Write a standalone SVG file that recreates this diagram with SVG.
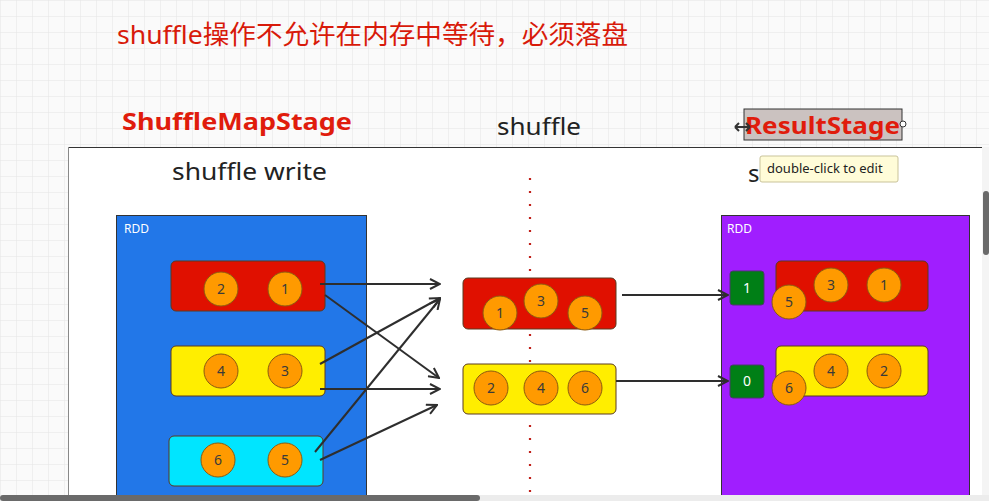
<svg xmlns="http://www.w3.org/2000/svg" width="989" height="501" viewBox="0 0 989 501">
<style>
.sans{font-family:"Noto Sans","Open Sans","Liberation Sans",sans-serif}
.cjk{font-family:"Noto Sans","Noto Sans CJK SC",sans-serif}
.part{stroke:#5a3a20;stroke-width:1}
.ball{fill:#ff9a00;stroke:#8a5a10;stroke-width:1}
.num{font-family:"Noto Sans","Open Sans",sans-serif;font-size:14px;fill:#3a3a3a;text-anchor:middle}
.rdd{font-family:"Noto Sans","Open Sans",sans-serif;font-size:12px;fill:#ffffff}
.conn{stroke:#2e2e2e;stroke-width:2;fill:none}
.big{font-size:24px;fill:#222}
</style>
<defs>
<pattern id="grid" width="16" height="16" patternUnits="userSpaceOnUse">
<path d="M16 0 L0 0 L0 16" fill="none" stroke="#e4e4e4" stroke-width="1"/>
</pattern>
<marker id="open" viewBox="0 0 12 12" refX="11" refY="6" markerWidth="12" markerHeight="12" markerUnits="userSpaceOnUse" orient="auto">
<path d="M1 1 L11 6 L1 11" fill="none" stroke="#2e2e2e" stroke-width="2"/>
</marker>
</defs>

<rect x="0" y="0" width="989" height="501" fill="#fafafa"/>
<rect x="0" y="0" width="989" height="501" fill="url(#grid)"/>

<g id="title">
<text class="cjk" x="117" y="44" font-size="26" fill="#d81a0a" textLength="511" lengthAdjust="spacingAndGlyphs">shuffle操作不允许在内存中等待，必须落盘</text>
</g>

<g id="labels">
<text class="sans" x="122" y="130" font-size="24" font-weight="bold" fill="#e01c0c" textLength="230" lengthAdjust="spacingAndGlyphs">ShuffleMapStage</text>
<text class="sans big" x="497" y="135" textLength="84" lengthAdjust="spacingAndGlyphs">shuffle</text>
</g>

<g id="panel">
<rect x="68" y="147" width="914" height="348" fill="#ffffff"/>
<line x1="68" y1="147.5" x2="982" y2="147.5" stroke="#333" stroke-width="1.2"/>
<line x1="68.5" y1="147" x2="68.5" y2="495" stroke="#888" stroke-width="1"/>
<text class="sans big" x="172" y="180" textLength="155" lengthAdjust="spacingAndGlyphs">shuffle write</text>
<text class="sans big" x="748" y="182">s</text>
<line x1="530" y1="178" x2="530" y2="495" stroke="#c0201a" stroke-width="2.2" stroke-dasharray="2 11"/>
</g>

<g id="result-stage-label">
<rect x="744" y="109" width="158" height="31" fill="#cbc2c0" stroke="#333" stroke-width="1"/>
<text class="sans" x="745" y="134" font-size="24" font-weight="bold" fill="#e01c0c" textLength="155" lengthAdjust="spacingAndGlyphs">ResultStage</text>
<circle cx="903" cy="124" r="3" fill="#fff" stroke="#333" stroke-width="1"/>
<path d="M735 127 L750 127 M735 127 L739 123 M735 127 L739 131 M750 127 L746 123 M750 127 L746 131" stroke="#333" stroke-width="2" fill="none"/>
</g>

<g id="tooltip">
<rect x="760" y="156" width="138" height="26" rx="2" fill="#fffcd8" stroke="#c9c39a" stroke-width="1"/>
<text class="sans" x="767" y="173" font-size="13" fill="#222">double-click to edit</text>
</g>

<g id="rdd-left">
<rect x="116.5" y="215.5" width="250" height="280" fill="#2277e8" stroke="#333" stroke-width="1"/>
<text class="rdd" x="124" y="233">RDD</text>
</g>
<g id="left-p0">
<rect class="part" x="171" y="261" width="154" height="50" rx="5" fill="#e01000"/>
<circle class="ball" cx="221" cy="289" r="17"/><text class="num" x="221" y="294">2</text>
<circle class="ball" cx="285" cy="289" r="17"/><text class="num" x="285" y="294">1</text>
</g>
<g id="left-p1">
<rect class="part" x="171" y="346" width="154" height="50" rx="5" fill="#ffee00"/>
<circle class="ball" cx="221" cy="371" r="17"/><text class="num" x="221" y="376">4</text>
<circle class="ball" cx="285" cy="371" r="17"/><text class="num" x="285" y="376">3</text>
</g>
<g id="left-p2">
<rect class="part" x="169" y="436" width="154" height="50" rx="5" fill="#00e5ff"/>
<circle class="ball" cx="218" cy="460" r="17"/><text class="num" x="218" y="465">6</text>
<circle class="ball" cx="285" cy="460" r="17"/><text class="num" x="285" y="465">5</text>
</g>

<g id="mid-p0">
<rect class="part" x="463" y="278" width="153" height="51" rx="5" fill="#e01000"/>
<circle class="ball" cx="541" cy="301" r="17"/><text class="num" x="541" y="306">3</text>
<circle class="ball" cx="500" cy="313" r="17"/><text class="num" x="500" y="318">1</text>
<circle class="ball" cx="585" cy="313" r="17"/><text class="num" x="585" y="318">5</text>
</g>
<g id="mid-p1">
<rect class="part" x="463" y="364" width="153" height="50" rx="5" fill="#ffee00"/>
<circle class="ball" cx="491" cy="388" r="17"/><text class="num" x="491" y="393">2</text>
<circle class="ball" cx="541" cy="388" r="17"/><text class="num" x="541" y="393">4</text>
<circle class="ball" cx="585" cy="388" r="17"/><text class="num" x="585" y="393">6</text>
</g>

<g id="rdd-right">
<rect x="721.5" y="215.5" width="248" height="280" fill="#a01eff" stroke="#333" stroke-width="1"/>
<text class="rdd" x="727" y="233">RDD</text>
</g>
<g id="right-idx1">
<rect x="730" y="271" width="34" height="34" rx="3" fill="#007f16" stroke="#4a3a6a" stroke-width="1"/>
<text class="num" x="747" y="293" style="fill:#fff">1</text>
</g>
<g id="right-idx0">
<rect x="730" y="365" width="34" height="33" rx="3" fill="#007f16" stroke="#4a3a6a" stroke-width="1"/>
<text class="num" x="747" y="386" style="fill:#fff">0</text>
</g>
<g id="right-p0">
<rect class="part" x="776" y="261" width="152" height="50" rx="5" fill="#e01000"/>
<circle class="ball" cx="831" cy="285" r="17"/><text class="num" x="831" y="290">3</text>
<circle class="ball" cx="884" cy="285" r="17"/><text class="num" x="884" y="290">1</text>
<circle class="ball" cx="789" cy="302" r="17"/><text class="num" x="789" y="307">5</text>
</g>
<g id="right-p1">
<rect class="part" x="776" y="346" width="152" height="50" rx="5" fill="#ffee00"/>
<circle class="ball" cx="831" cy="371" r="17"/><text class="num" x="831" y="376">4</text>
<circle class="ball" cx="884" cy="371" r="17"/><text class="num" x="884" y="376">2</text>
<circle class="ball" cx="789" cy="388" r="17"/><text class="num" x="789" y="393">6</text>
</g>

<g id="connectors">
<line class="conn" x1="320" y1="284" x2="440" y2="284" marker-end="url(#open)"/>
<line class="conn" x1="325" y1="295" x2="439" y2="378" marker-end="url(#open)"/>
<line class="conn" x1="320" y1="364" x2="440" y2="298" marker-end="url(#open)"/>
<line class="conn" x1="320" y1="389" x2="440" y2="389" marker-end="url(#open)"/>
<line class="conn" x1="315" y1="452" x2="440" y2="299" marker-end="url(#open)"/>
<line class="conn" x1="320" y1="460" x2="437" y2="405" marker-end="url(#open)"/>
<line class="conn" x1="622" y1="295" x2="728" y2="295" marker-end="url(#open)"/>
<line class="conn" x1="616" y1="381" x2="728" y2="381" marker-end="url(#open)"/>
</g>

<g id="scrollbars">
<rect x="982" y="147" width="7" height="348" fill="#f4f4f4"/>
<rect x="983" y="191" width="6" height="64" rx="3" fill="#6a6a6a"/>
<rect x="0" y="495" width="989" height="6" fill="#ececec"/>
<rect x="0" y="495" width="480" height="6" rx="3" fill="#6a6a6a"/>
</g>
</svg>
